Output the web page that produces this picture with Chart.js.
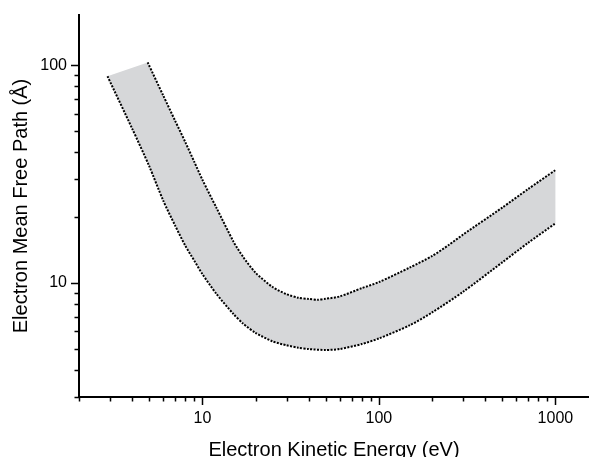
<!DOCTYPE html>
<html>
<head>
<meta charset="utf-8">
<script src="https://cdn.jsdelivr.net/npm/chart.js@4.4.1/dist/chart.umd.min.js"></script>
<style>
  html, body { margin: 0; padding: 0; background: #fff; }
  canvas { display: block; }
</style>
</head>
<body>
<canvas id="mfpChart" width="589" height="457"></canvas>
<script>
// Universal curve band: upper and lower bounds (energy in eV, path in Å)
const upperEnergy = [4.9, 6, 7, 8, 9, 10, 12, 15, 17, 20, 25, 30, 35, 40, 45, 50, 60, 80, 100, 150, 200, 250, 300, 500, 700, 1000];
const upperPath = [103, 72.6, 55.7, 44.4, 36.0, 29.8, 22.2, 15.5, 13.2, 11.16, 9.59, 8.89, 8.56, 8.46, 8.38, 8.47, 8.68, 9.48, 10.1, 11.8, 13.3, 15.0, 16.7, 22.2, 27.0, 33.0];

const lowerEnergy = [2.9, 4, 5, 6, 7, 8, 9, 10, 12, 15, 17, 20, 25, 30, 35, 40, 50, 60, 80, 100, 150, 200, 300, 500, 700, 1000];
const lowerPath = [89, 51.2, 34.4, 23.9, 18.4, 14.85, 12.67, 11.0, 8.93, 7.21, 6.52, 5.91, 5.40, 5.18, 5.05, 4.98, 4.93, 4.98, 5.25, 5.57, 6.41, 7.33, 9.12, 12.45, 15.3, 18.8];

// Axis ticks
const xMajor = [10, 100, 1000];
const xMinor = [2, 3, 4, 5, 6, 7, 8, 9, 20, 30, 40, 50, 60, 70, 80, 90, 200, 300, 400, 500, 600, 700, 800, 900];
const yMajor = [10, 100];
const yMinor = [3, 4, 5, 6, 7, 8, 9, 20, 30, 40, 50, 60, 70, 80, 90];

const toPoints = (xs, ys) => xs.map((x, i) => ({ x: x, y: ys[i] }));

const upperPts = toPoints(upperEnergy, upperPath);
const lowerPts = toPoints(lowerEnergy, lowerPath);
// closed outline of the band: along the upper curve, back along the lower one.
// the right-hand corners are repeated so the curve smoothing keeps that edge straight
const upperEnd = upperPts[upperPts.length - 1];
const lowerEnd = lowerPts[lowerPts.length - 1];
const bandPts = upperPts.concat([upperEnd, lowerEnd], lowerPts.slice().reverse());

const FONT = "'Liberation Sans', Arial, Helvetica, sans-serif";

// outward tick marks, long for decades and short for the rest
const tickMarks = {
    id: "tickMarks",
    afterDraw(chart) {
        const ctx = chart.ctx;
        const xs = chart.scales.x;
        const ys = chart.scales.y;
        ctx.save();
        ctx.strokeStyle = "#000";
        ctx.lineWidth = 1.5;
        ctx.beginPath();
        xMajor.forEach((v) => {
            const p = Math.round(xs.getPixelForValue(v)) + 0.5;
            ctx.moveTo(p, xs.top); ctx.lineTo(p, xs.top + 8);
        });
        xMinor.forEach((v) => {
            const p = Math.round(xs.getPixelForValue(v)) + 0.5;
            ctx.moveTo(p, xs.top); ctx.lineTo(p, xs.top + 4.5);
        });
        yMajor.forEach((v) => {
            const p = Math.round(ys.getPixelForValue(v)) + 0.5;
            ctx.moveTo(ys.right, p); ctx.lineTo(ys.right - 8, p);
        });
        yMinor.forEach((v) => {
            const p = Math.round(ys.getPixelForValue(v)) + 0.5;
            ctx.moveTo(ys.right, p); ctx.lineTo(ys.right - 4.5, p);
        });
        ctx.stroke();
        ctx.restore();
    },
};

const dotted = {
    showLine: true,
    fill: false,
    borderColor: "#000",
    borderWidth: 2,
    borderDash: [2, 1.4],
    pointRadius: 0,
    tension: 0.25,
};

new Chart(document.getElementById("mfpChart").getContext("2d"), {
    type: "scatter",
    data: {
        datasets: [
            Object.assign({ label: "upper", data: upperPts }, dotted),
            Object.assign({ label: "lower", data: lowerPts }, dotted),
            {
                label: "band",
                data: bandPts,
                showLine: true,
                fill: "shape",
                backgroundColor: "#d6d7d9",
                borderWidth: 0,
                pointRadius: 0,
                tension: 0.25,
            },
        ],
    },
    options: {
        responsive: false,
        animation: false,
        layout: { padding: { top: 15, right: 0, left: 0, bottom: 0 } },
        plugins: {
            legend: { display: false },
            tooltip: { enabled: false },
        },
        scales: {
            x: {
                type: "logarithmic",
                min: 2,
                max: 1550,
                grid: { display: false, drawTicks: true, tickLength: 12 },
                border: { display: true, color: "#000", width: 2 },
                afterBuildTicks: (scale) => { scale.ticks = xMajor.map((v) => ({ value: v })); },
                afterFit: (scale) => { scale.height = 60; },
                ticks: {
                    autoSkip: false,
                    maxRotation: 0,
                    padding: 0,
                    color: "#000",
                    font: { family: FONT, size: 16 },
                    callback: (v) => String(v),
                },
                title: {
                    display: true,
                    text: "Electron Kinetic Energy (eV)",
                    color: "#000",
                    font: { family: FONT, size: 20, lineHeight: 1 },
                    padding: { top: 0, bottom: -3 },
                },
            },
            y: {
                type: "logarithmic",
                min: 3,
                max: 170,
                grid: { display: false, drawTicks: true, tickLength: 12 },
                border: { display: true, color: "#000", width: 2 },
                afterBuildTicks: (scale) => { scale.ticks = yMajor.map((v) => ({ value: v })); },
                afterFit: (scale) => { scale.width = 79; },
                ticks: {
                    autoSkip: false,
                    padding: 0,
                    color: "#000",
                    font: { family: FONT, size: 16 },
                    callback: (v) => String(v),
                },
                title: {
                    display: true,
                    text: "Electron Mean Free Path (Å)",
                    color: "#000",
                    font: { family: FONT, size: 20, lineHeight: 1 },
                    padding: { top: 11, bottom: 0 },
                },
            },
        },
    },
    plugins: [tickMarks],
});
</script>
</body>
</html>
